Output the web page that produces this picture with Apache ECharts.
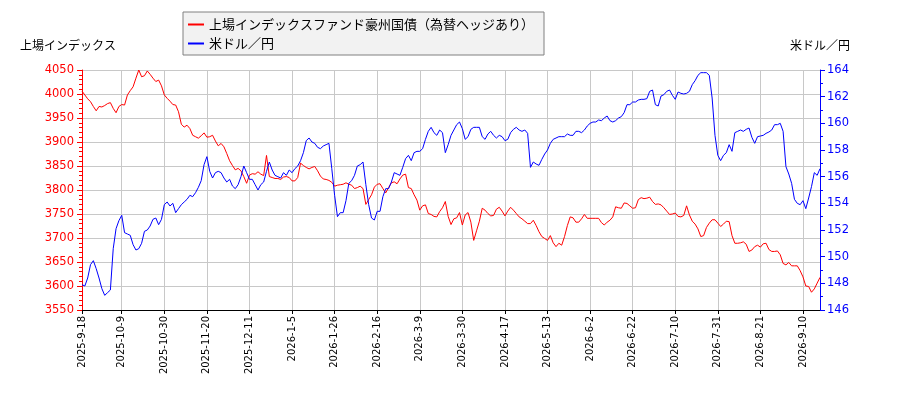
<!DOCTYPE html>
<html><head><meta charset="utf-8">
<script src="https://cdn.jsdelivr.net/npm/echarts@6/dist/echarts.min.js"></script>
<style>html,body{margin:0;padding:0;background:#fff}#c{width:900px;height:400px}</style>
</head><body><div id="c"></div>
<script>
// ---- data ----
const tickDates = ['2025-9-18','2025-10-9','2025-10-30','2025-11-20','2025-12-11','2026-1-5','2026-1-26','2026-2-16','2026-3-9','2026-3-30','2026-4-17','2026-5-13','2026-6-2','2026-6-22','2026-7-10','2026-7-31','2026-8-21','2026-9-10'];
// trading days between consecutive labelled dates, and after the last one
const stepsBetweenTicks = [14,15,15,15,15,15,15,15,15,15,15,15,15,15,15,15,15];
const daysAfterLastTick = 6;

const fundName = '上場インデックスファンド豪州国債（為替ヘッジあり）';
const fxName = '米ドル／円';
const leftAxisName = '上場インデックス';
const rightAxisName = '米ドル／円';

const fundValues = [
4006,3998,3990,3984,3974,3965,3974,3973,3976,3980,3982,3970,3961,3974,3978,3977,3998,4007,4015,4033,4050,4036,4038,4048,4041,4033,4026,4029,4017,3998,3991,3985,3978,3977,
3963,3937,3931,3935,3928,3914,3911,3908,3913,3919,3910,3911,3914,3902,3892,3897,3890,3876,3861,3851,3842,3845,3840,3828,3814,3831,3834,3833,3838,3833,3830,3872,
3828,3826,3824,3824,3822,3827,3828,3826,3819,3819,3826,3856,3851,3847,3844,3847,3849,3840,3829,3823,3822,3820,3816,3808,3810,3811,3812,3815,3812,3810,3803,3805,3808,
3803,3770,3780,3790,3806,3812,3813,3803,3794,3805,3815,3817,3813,3823,3831,3833,3805,3803,3790,3779,3758,3767,3769,3751,3749,3745,3744,3755,3763,3776,3745,3728,3740,
3742,3753,3727,3748,3753,3733,3695,3715,3735,3762,3758,3751,3746,3747,3760,3764,3756,3746,3756,3764,3758,3751,3744,3740,3735,3730,3730,3737,3726,3713,3703,3699,3695,
3705,3690,3682,3689,3685,3703,3726,3744,3742,3733,3733,3740,3749,3741,3741,3741,3741,3741,3732,3727,3733,3737,3744,3765,3763,3762,3773,3772,3767,3762,3763,3780,3784,
3782,3783,3785,3776,3770,3771,3769,3763,3756,3749,3750,3752,3745,3744,3747,3767,3748,3735,3729,3719,3703,3705,3722,3731,3738,3738,3731,3724,3729,3735,3734,3705,
3689,3689,3690,3692,3687,3672,3675,3682,3685,3681,3688,3689,3676,3672,3672,3673,3665,3647,3644,3649,3642,3642,3642,3632,3619,3600,3599,3587,3594,3606,3618
];

const fxValues = [
147.9,147.8,148.4,149.4,149.7,149.1,148.4,147.6,147.1,147.3,147.5,150.6,152.1,152.7,153.1,151.8,151.7,151.6,150.9,150.5,150.6,151.0,151.9,152.0,152.3,152.8,152.9,152.4,152.8,153.9,154.1,153.8,154.0,153.3,
153.6,153.9,154.1,154.3,154.6,154.5,154.8,155.2,155.7,156.9,157.5,156.4,155.9,156.3,156.4,156.3,155.9,155.6,155.8,155.3,155.1,155.4,156.0,156.8,156.3,155.8,155.8,155.4,155.0,155.4,155.6,156.4,
157.1,156.5,156.1,156.0,155.9,156.3,156.1,156.5,156.3,156.6,156.8,157.2,157.8,158.7,158.9,158.6,158.5,158.2,158.1,158.3,158.4,158.5,156.6,154.6,153.0,153.3,153.3,154.2,155.5,155.7,156.1,156.8,156.9,
157.1,155.4,153.9,152.9,152.75,153.4,153.4,154.5,155.1,155.1,155.6,156.3,156.2,156.1,156.7,157.35,157.6,157.2,157.8,157.9,157.9,158.1,158.8,159.4,159.7,159.3,159.1,159.5,159.3,157.8,158.4,159.1,159.5,
159.9,160.1,159.6,158.8,159.0,159.55,159.7,159.7,159.7,159.0,158.8,159.2,159.4,159.1,158.9,159.1,159.0,158.7,158.8,159.3,159.55,159.7,159.5,159.4,159.5,159.25,156.7,157.1,156.95,156.85,157.3,157.7,158.0,
158.5,158.8,158.9,159.0,159.0,159.0,159.2,159.1,159.1,159.4,159.4,159.3,159.5,159.8,160.0,160.1,160.1,160.25,160.2,160.4,160.55,160.2,160.1,160.2,160.4,160.5,160.8,161.4,161.4,161.6,161.6,161.75,161.8,
161.8,161.85,162.4,162.5,161.4,161.3,162.05,162.15,162.4,162.5,162.1,161.8,162.35,162.25,162.2,162.25,162.4,162.9,163.2,163.6,163.8,163.8,163.8,163.6,161.9,159.1,157.6,157.2,157.6,157.8,158.4,157.9,
159.3,159.4,159.5,159.4,159.55,159.65,158.95,158.5,159.0,159.05,159.1,159.25,159.35,159.5,159.9,159.9,160.0,159.4,156.75,156.2,155.5,154.3,154.0,153.9,154.2,153.6,154.4,155.25,156.3,156.1,156.6
];

// ---- build categories (trading days) ----
function parseDate(s){const p=s.split('-').map(Number);return new Date(Date.UTC(p[0],p[1]-1,p[2]));}
function fmtDate(d){return d.getUTCFullYear()+'-'+(d.getUTCMonth()+1)+'-'+d.getUTCDate();}
function nextWeekday(d){const n=new Date(d.getTime()+86400000);while(n.getUTCDay()===0||n.getUTCDay()===6){n.setTime(n.getTime()+86400000);}return n;}
const categories=[]; const tickIndex=new Set();
tickDates.forEach(function(t,k){
  tickIndex.add(categories.length);
  categories.push(t);
  const n = k < stepsBetweenTicks.length ? stepsBetweenTicks[k] : daysAfterLastTick + 1;
  let d = parseDate(t);
  for (let j=1;j<n;j++){ d = nextWeekday(d); categories.push(fmtDate(d)); }
});
const isTick = function(idx){ return tickIndex.has(idx); };

const RED='#ff0000', BLUE='#0000ff', GRID='#c8c8c8';
const numFont='DejaVu Sans', jpFont='Noto Sans CJK JP';
const plain = function(v){ return String(v); };

const chart = echarts.init(document.getElementById('c'), null, {renderer:'canvas'});
chart.setOption({
  animation:false,
  backgroundColor:'#ffffff',
  grid:{left:82,right:80,top:70,bottom:90,containLabel:false},
  legend:{
    left:183, top:12, orient:'vertical',
    backgroundColor:'#f2f2f2', borderColor:'#808080', borderWidth:1, borderRadius:0,
    padding:[6,10,5,5], itemGap:6, itemWidth:16, itemHeight:2, icon:'rect',
    textStyle:{fontFamily:jpFont,fontSize:13,color:'#000'},
    data:[fundName,fxName]
  },
  graphic:[
    {type:'text',left:20,top:39,style:{text:leftAxisName,font:'12px "Noto Sans CJK JP"',fill:'#000'}},
    {type:'text',right:50,top:39,style:{text:rightAxisName,font:'12px "Noto Sans CJK JP"',fill:'#000'}}
  ],
  xAxis:{
    type:'category', data:categories, boundaryGap:false,
    axisLine:{onZero:false,lineStyle:{color:'#000',width:1}},
    axisTick:{show:true,interval:isTick,length:4,lineStyle:{color:'#000'}},
    axisLabel:{interval:isTick,rotate:90,fontSize:10,fontFamily:numFont,color:'#000',margin:6},
    splitLine:{show:true,interval:isTick,lineStyle:{color:GRID,width:1}}
  },
  yAxis:[
    {type:'value',position:'left',min:3550,max:4050,interval:50,
     axisLine:{show:true,lineStyle:{color:RED}},
     axisTick:{show:true,length:5,lineStyle:{color:RED}},
     minorTick:{show:true,splitNumber:5,length:3,lineStyle:{color:RED}},
     axisLabel:{color:RED,fontSize:11.5,fontFamily:numFont,margin:8,formatter:plain},
     splitLine:{show:true,lineStyle:{color:GRID,width:1}}},
    {type:'value',position:'right',min:146,max:164,interval:2,
     axisLine:{show:true,lineStyle:{color:BLUE}},
     axisTick:{show:true,length:5,lineStyle:{color:BLUE}},
     minorTick:{show:true,splitNumber:2,length:3,lineStyle:{color:BLUE}},
     axisLabel:{color:BLUE,fontSize:11.5,fontFamily:numFont,margin:7,formatter:plain},
     splitLine:{show:false}}
  ],
  series:[
    {name:fundName,type:'line',yAxisIndex:0,data:fundValues,symbol:'none',color:RED,lineStyle:{color:RED,width:1}},
    {name:fxName,type:'line',yAxisIndex:1,data:fxValues,symbol:'none',color:BLUE,lineStyle:{color:BLUE,width:1}}
  ]
});
</script>
</body></html>
